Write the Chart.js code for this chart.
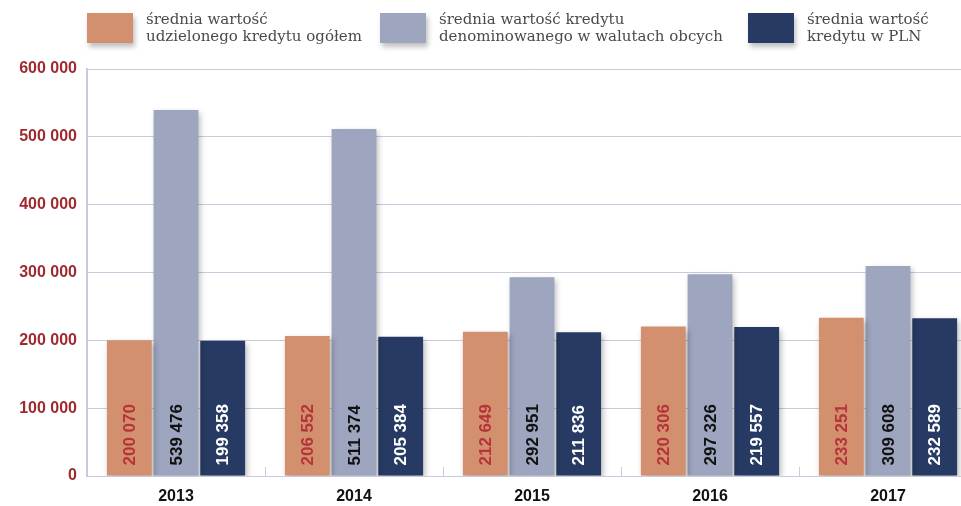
<!DOCTYPE html>
<html lang="pl">
<head>
<meta charset="utf-8">
<script src="https://cdn.jsdelivr.net/npm/chart.js@4.4.1/dist/chart.umd.min.js"></script>
<style>
  html, body { margin: 0; padding: 0; background: #fff; overflow: hidden; }
  #wrap { position: relative; width: 979px; height: 506px; }
  .legend { position: absolute; top: 0; left: 0; width: 961px; height: 60px; font-family: 'DejaVu Serif', serif; font-size: 15px; color: #4a4a4a; }
  .legend-item { position: absolute; top: 13px; display: flex; align-items: flex-start; }
  .legend-box { width: 46px; height: 30px; box-shadow: 2px 4px 5px rgba(0,0,0,0.25); margin-right: 13px; flex: none; }
  .legend-text { line-height: 17px; margin-top: -2px; }
</style>
</head>
<body>
<div id="wrap">
  <canvas id="chart" width="979" height="506"></canvas>
  <div class="legend" id="legend"></div>
</div>
<script>
// ── Data ─────────────────────────────────────────────────────────────────────
const YEARS   = ['2013', '2014', '2015', '2016', '2017'];
const TOTAL   = [200070, 206552, 212649, 220306, 233251];
const FOREIGN = [539476, 511374, 292951, 297326, 309608];
const PLN     = [199358, 205384, 211836, 219557, 232589];

const SERIES_NAMES = [
  ['średnia wartość', 'udzielonego kredytu ogółem'],
  ['średnia wartość kredytu', 'denominowanego w walutach obcych'],
  ['średnia wartość', 'kredytu w PLN'],
];
const COLORS       = ['#d3906f', '#9ea5bf', '#263a63'];
const LABEL_COLORS = ['#b5343a', '#111111', '#ffffff'];
const LEGEND_X     = [87, 380, 748];

const fmt = n => String(n).replace(/\B(?=(\d{3})+(?!\d))/g, ' ');

// ── HTML legend ──────────────────────────────────────────────────────────────
document.getElementById('legend').innerHTML = SERIES_NAMES.map((lines, i) => `
  <div class="legend-item" style="left:${LEGEND_X[i]}px">
    <span class="legend-box" style="background:${COLORS[i]}"></span>
    <span class="legend-text">${lines.join('<br>')}</span>
  </div>`).join('');

// ── Plugins ──────────────────────────────────────────────────────────────────
const barShadow = {
  id: 'barShadow',
  beforeDatasetsDraw(chart) {
    const ctx = chart.ctx;
    ctx.save();
    ctx.shadowColor = 'rgba(0,0,0,0.28)';
    ctx.shadowBlur = 6;
    ctx.shadowOffsetX = 2;
    ctx.shadowOffsetY = 3;
  },
  afterDatasetsDraw(chart) { chart.ctx.restore(); }
};

const valueLabels = {
  id: 'valueLabels',
  afterDraw(chart) {
    const ctx = chart.ctx;
    ctx.save();
    ctx.font = "bold 17px 'Liberation Sans', Arial, sans-serif";
    ctx.textAlign = 'left';
    ctx.textBaseline = 'middle';
    chart.data.datasets.forEach((ds, di) => {
      ctx.fillStyle = LABEL_COLORS[di];
      chart.getDatasetMeta(di).data.forEach((bar, i) => {
        ctx.save();
        ctx.translate(bar.x + 1, bar.base - 10);
        ctx.rotate(-Math.PI / 2);
        ctx.fillText(fmt(ds.data[i]), 0, 0);
        ctx.restore();
      });
    });
    ctx.restore();
  }
};

const categoryTicks = {
  id: 'categoryTicks',
  afterDraw(chart) {
    const x = chart.scales.x, y = chart.scales.y, ctx = chart.ctx;
    ctx.save();
    ctx.strokeStyle = '#c9cade';
    ctx.lineWidth = 1;
    for (let i = 0; i < YEARS.length - 1; i++) {
      const px = Math.round((x.getPixelForValue(i) + x.getPixelForValue(i + 1)) / 2) + 0.5;
      ctx.beginPath();
      ctx.moveTo(px, y.bottom);
      ctx.lineTo(px, y.bottom - 9);
      ctx.stroke();
    }
    ctx.restore();
  }
};

// ── Chart ────────────────────────────────────────────────────────────────────
const mkSet = (data, i) => ({
  label: SERIES_NAMES[i].join(' '),
  data,
  backgroundColor: COLORS[i],
  borderWidth: 0,
  categoryPercentage: 0.787,
  barPercentage: 0.96,
});

new Chart(document.getElementById('chart'), {
  type: 'bar',
  data: {
    labels: YEARS,
    datasets: [mkSet(TOTAL, 0), mkSet(FOREIGN, 1), mkSet(PLN, 2)]
  },
  options: {
    responsive: false,
    animation: false,
    layout: { padding: { top: 69, right: 2, bottom: 0, left: 0 } },
    plugins: { legend: { display: false }, tooltip: { enabled: false } },
    scales: {
      x: {
        afterFit: s => { s.height = 30; },
        grid: { display: false, drawTicks: false },
        border: { display: false },
        ticks: { color: '#111', padding: 11, font: { family: "'Liberation Sans', Arial, sans-serif", size: 16, weight: 'bold' } },
      },
      y: {
        min: 0,
        max: 600000,
        afterFit: s => { s.width = 87; },
        grid: { color: '#c9cade', lineWidth: 1, drawTicks: false },
        border: { color: '#c9cade', width: 2 },
        ticks: {
          stepSize: 100000,
          padding: 10,
          color: '#9e2a2f',
          font: { family: "'Liberation Sans', Arial, sans-serif", size: 16, weight: 'bold' },
          callback: v => fmt(v),
        },
      }
    }
  },
  plugins: [barShadow, valueLabels, categoryTicks]
});
</script>
</body>
</html>
